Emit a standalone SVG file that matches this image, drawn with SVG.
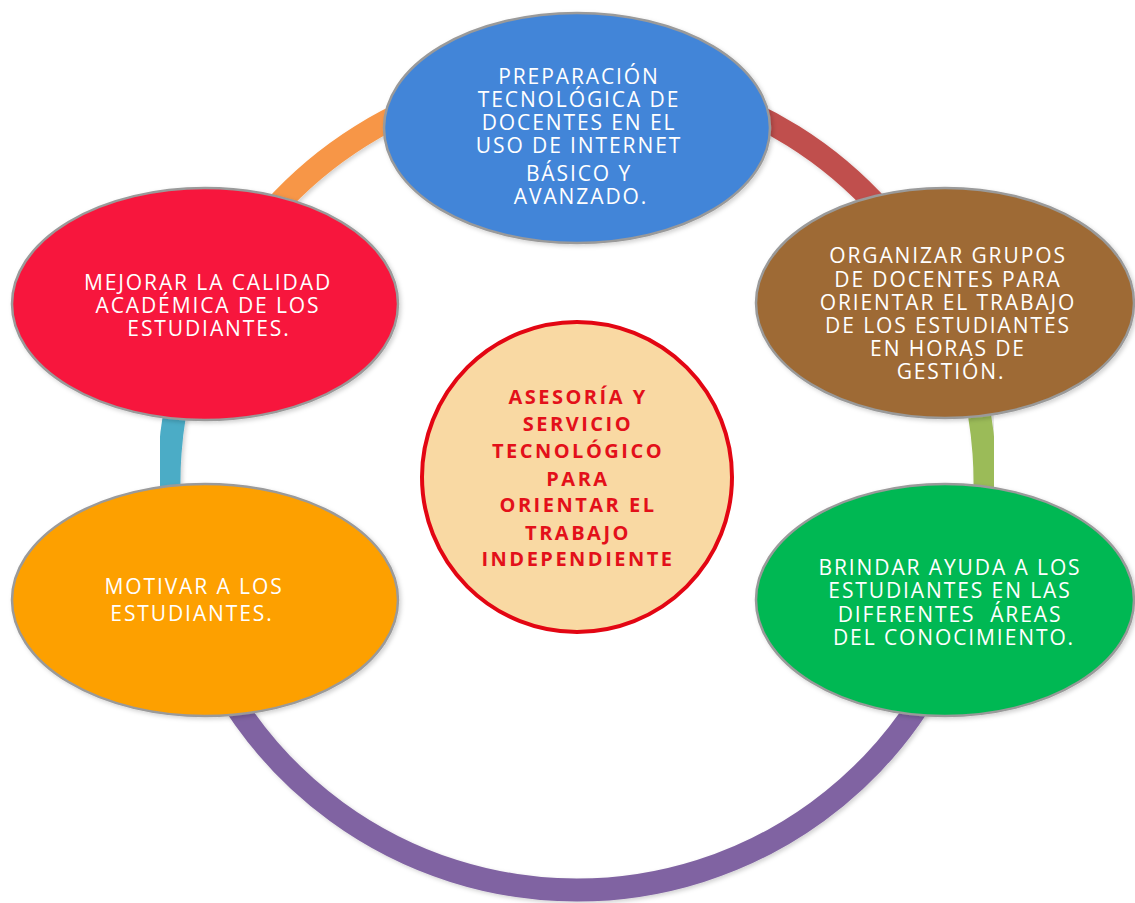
<svg xmlns="http://www.w3.org/2000/svg" width="1135" height="903" viewBox="0 0 1135 903">
<defs>
<filter id="sh" x="-20%" y="-20%" width="140%" height="140%">
<feDropShadow dx="2" dy="2" stdDeviation="2" flood-color="#000" flood-opacity="0.18"/>
</filter>
</defs>
<style>
.ring{fill:none;stroke-width:23;filter:url(#sh)}
.node{stroke:#9a9a9a;stroke-width:2.5;filter:url(#sh)}
.t{font-family:"Open Sans","DejaVu Sans",sans-serif;font-size:21px;fill:#ffffff;text-anchor:middle;letter-spacing:1.9px;white-space:pre}
.c{font-family:"Open Sans","DejaVu Sans",sans-serif;font-size:20px;font-weight:bold;fill:#e3101a;text-anchor:middle;letter-spacing:2.5px}
</style>
<rect width="1135" height="903" fill="#ffffff"/>
<g id="connectors">
<path class="ring" stroke="#c0504d" d="M577,74 A408,408 0 0 1 943.7,303.1"/>
<path class="ring" stroke="#9bbb59" d="M943.7,303.1 A408,408 0 0 1 965.5,606.7"/>
<path class="ring" stroke="#8064a2" d="M965.5,606.7 A408,408 0 0 1 188.5,606.7"/>
<path class="ring" stroke="#4bacc6" d="M188.5,606.7 A408,408 0 0 1 210.3,303.1"/>
<path class="ring" stroke="#f79646" d="M210.3,303.1 A408,408 0 0 1 577,74"/>
</g>
<g id="node-top">
<ellipse class="node" cx="577" cy="128" rx="193" ry="115" fill="#4385d8"/>
<text class="t"><tspan x="579" y="84">PREPARACIÓN</tspan><tspan x="579" y="107">TECNOLÓGICA DE</tspan><tspan x="579" y="130">DOCENTES EN EL</tspan><tspan x="579" y="153">USO DE INTERNET</tspan><tspan x="579" y="181">BÁSICO Y</tspan><tspan x="581" y="204">AVANZADO.</tspan></text>
</g>
<g id="node-right-top">
<ellipse class="node" cx="945" cy="303" rx="189" ry="115" fill="#9e6b35"/>
<text class="t"><tspan x="948" y="263">ORGANIZAR GRUPOS</tspan><tspan x="948" y="287">DE DOCENTES PARA</tspan><tspan x="948" y="310">ORIENTAR EL TRABAJO</tspan><tspan x="948" y="333">DE LOS ESTUDIANTES</tspan><tspan x="948" y="356">EN HORAS DE</tspan><tspan x="951" y="379">GESTIÓN.</tspan></text>
</g>
<g id="node-right-bottom">
<ellipse class="node" cx="945" cy="600" rx="189" ry="116" fill="#02b853"/>
<text class="t"><tspan x="950" y="575">BRINDAR AYUDA A LOS</tspan><tspan x="950" y="598">ESTUDIANTES EN LAS</tspan><tspan x="950" y="622">DIFERENTES  ÁREAS</tspan><tspan x="954" y="645">DEL CONOCIMIENTO.</tspan></text>
</g>
<g id="node-left-bottom">
<ellipse class="node" cx="205" cy="600" rx="193" ry="116" fill="#fda004"/>
<text class="t"><tspan x="194" y="594">MOTIVAR A LOS</tspan><tspan x="192" y="621">ESTUDIANTES.</tspan></text>
</g>
<g id="node-left-top">
<ellipse class="node" cx="205" cy="304" rx="193" ry="116" fill="#f7193c"/>
<text class="t"><tspan x="208" y="290">MEJORAR LA CALIDAD</tspan><tspan x="208" y="313">ACADÉMICA DE LOS</tspan><tspan x="209" y="336">ESTUDIANTES.</tspan></text>
</g>
<g id="node-center">
<circle cx="577" cy="477" r="155" fill="#f9d9a3" stroke="#e30613" stroke-width="4"/>
<text class="c"><tspan x="578" y="404">ASESORÍA Y</tspan><tspan x="578" y="431">SERVICIO</tspan><tspan x="578" y="458">TECNOLÓGICO</tspan><tspan x="578" y="486">PARA</tspan><tspan x="578" y="512">ORIENTAR EL</tspan><tspan x="578" y="540">TRABAJO</tspan><tspan x="578" y="566">INDEPENDIENTE</tspan></text>
</g>
</svg>
